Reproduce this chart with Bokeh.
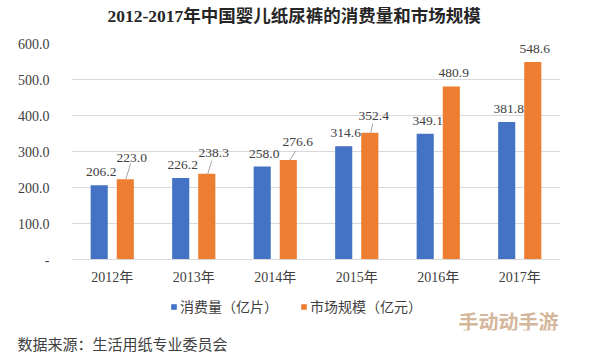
from bokeh.plotting import figure
from bokeh.layouts import column
from bokeh.models import (ColumnDataSource, FactorRange, Range1d, Legend, LegendItem,
                          CustomJSTickFormatter, FixedTicker, Label, Title)
from bokeh.transform import dodge
from bokeh.core.properties import value
from bokeh.embed import file_html
from bokeh.resources import INLINE

# ---- data ----
years = ["2012年", "2013年", "2014年", "2015年", "2016年", "2017年"]
consumption = [206.2, 226.2, 258.0, 314.6, 349.1, 381.8]      # 消费量（亿片）
market_size = [223.0, 238.3, 276.6, 352.4, 480.9, 548.6]      # 市场规模（亿元）
y_ticks = [0, 100, 200, 300, 400, 500, 600]

title_text = "2012-2017年中国婴儿纸尿裤的消费量和市场规模"
series_names = ["消费量（亿片）", "市场规模（亿元）"]
source_text = "数据来源：生活用纸专业委员会"
watermark_text = "手动动手游"

# ---- styles ----
BLUE = "#4472C4"
ORANGE = "#ED7D31"
TXT = "#404040"
GRID = "#d9d9d9"
SERIF = "Liberation Serif, Noto Sans CJK SC"
CJK = "Noto Sans CJK SC"

W = 594
TOP_H, MAIN_H, BOT_H = 30, 260, 63
L, R, MT, MB = 71, 34, 13, 31
BOT_MB = 20
FRAME_W = W - L - R
FRAME_H = MAIN_H - MT - MB
PX_PER_CAT = FRAME_W / len(years)
PX_PER_UNIT = FRAME_H / 600.0

# label pixel offsets (style)
blue_dx = [2, 2, 2, 2, 2.5, 2]
blue_dy = [-13, -13, -13, -13, -13, -13]
orange_dx = [6.5, 7, 9.5, 4, 2.5, 2]
orange_dy = [-21.5, -21, -17.5, -17, -13, -13]
# leader lines (px, from bar top centre) - only for first four
lead_dx0 = [0.5, 1, 1.5, 1]
lead_dx1 = [5.5, 5, 7.5, 3]
lead_dy1 = [-16, -13, -9, -9]


def blank_panel(h, mb=0):
    # frames of stacked plots are aligned, so x data units == canvas pixels here
    f = figure(width=W, height=h, x_range=Range1d(L, W - R), y_range=Range1d(h - mb, 0),
               output_backend="svg", toolbar_location=None,
               x_axis_location=None, y_axis_location=None, min_border=0,
               min_border_left=0, min_border_right=0, min_border_top=0, min_border_bottom=mb)
    f.grid.visible = False
    f.outline_line_color = None
    f.background_fill_color = "white"
    f.border_fill_color = "white"
    return f

# ---- title panel ----
top = blank_panel(TOP_H)
top.add_layout(Label(x=107, y=15, text=title_text, text_font=SERIF, text_font_size="17.5px",
                     text_font_style="bold", text_color="#262626", text_baseline="middle"))

# ---- main chart ----
src = ColumnDataSource(dict(
    year=years, cons=consumption, mkt=market_size,
    cons_lbl=[f"{v:.1f}" for v in consumption],
    mkt_lbl=[f"{v:.1f}" for v in market_size],
    bdx=blue_dx, bdy=blue_dy, odx=orange_dx, ody=orange_dy,
))

p = figure(width=W, height=MAIN_H, x_range=FactorRange(factors=years, range_padding=0),
           y_range=Range1d(0, 600), output_backend="svg", toolbar_location=None,
           min_border_left=L, min_border_right=R, min_border_top=MT, min_border_bottom=MB)
p.background_fill_color = "white"
p.border_fill_color = "white"
p.outline_line_color = None

OFF = 0.16
BW = 0.21
p.vbar(x=dodge("year", -OFF, range=p.x_range), top="cons", width=BW, source=src,
       fill_color=BLUE, line_color=None)
p.vbar(x=dodge("year", OFF, range=p.x_range), top="mkt", width=BW, source=src,
       fill_color=ORANGE, line_color=None)

# leader lines from orange bar tops toward their labels
for j in range(len(lead_dx0)):
    s = ColumnDataSource(dict(yr=[years[j]], y0=[market_size[j]],
                              y1=[market_size[j] - lead_dy1[j] / PX_PER_UNIT]))
    p.segment(x0=dodge("yr", OFF + lead_dx0[j] / PX_PER_CAT, range=p.x_range), y0="y0",
              x1=dodge("yr", OFF + lead_dx1[j] / PX_PER_CAT, range=p.x_range), y1="y1",
              source=s, line_color="#a6a6a6", line_width=1)

p.text(x=dodge("year", -OFF, range=p.x_range), y="cons", text="cons_lbl", source=src,
       x_offset="bdx", y_offset="bdy", text_align="center", text_baseline="middle",
       text_font=value(SERIF), text_font_size="13.5px", text_color=TXT)
p.text(x=dodge("year", OFF, range=p.x_range), y="mkt", text="mkt_lbl", source=src,
       x_offset="odx", y_offset="ody", text_align="center", text_baseline="middle",
       text_font=value(SERIF), text_font_size="13.5px", text_color=TXT)

p.yaxis.ticker = FixedTicker(ticks=y_ticks)
p.yaxis.formatter = CustomJSTickFormatter(code="return tick == 0 ? '-' : tick.toFixed(1);")
p.yaxis.axis_line_color = None
p.yaxis.major_tick_line_color = None
p.yaxis.minor_tick_line_color = None
p.yaxis.major_label_standoff = 16
p.yaxis.major_label_text_font = SERIF
p.yaxis.major_label_text_font_size = "14px"
p.yaxis.major_label_text_color = TXT

p.xaxis.axis_line_color = GRID
p.xaxis.major_tick_line_color = None
p.xaxis.minor_tick_line_color = None
p.xaxis.major_label_standoff = 4
p.xaxis.major_label_text_font = SERIF
p.xaxis.major_label_text_font_size = "14px"
p.xaxis.major_label_text_color = TXT

p.xgrid.grid_line_color = None
p.ygrid.grid_line_color = GRID
p.ygrid.grid_line_width = 1

# ---- bottom panel: legend, watermark, source ----
bot = blank_panel(BOT_H, BOT_MB)
dummy = ColumnDataSource(dict(x=[-10000], top=[0]))
lb = bot.vbar(x="x", top="top", width=1, source=dummy, fill_color=BLUE, line_color=None)
lo = bot.vbar(x="x", top="top", width=1, source=dummy, fill_color=ORANGE, line_color=None)
legend = Legend(items=[LegendItem(label=series_names[0], renderers=[lb]),
                       LegendItem(label=series_names[1], renderers=[lo])],
                orientation="horizontal", location=(99, 14),
                glyph_width=7, glyph_height=7, label_standoff=3, spacing=22,
                padding=0, margin=0, border_line_color=None, background_fill_alpha=0,
                label_text_font=CJK, label_text_font_size="14px", label_text_color=TXT,
                label_height=14)
bot.add_layout(legend, "center")
bot.add_layout(Label(x=558, y=33, text=watermark_text, text_font=CJK, text_font_size="20px",
                     text_font_style="bold", text_color="#c9a27e", text_alpha=0.8,
                     text_align="right", text_baseline="middle"))
bot.add_layout(Title(text=source_text, align="left", offset=-54, text_font=CJK,
                     text_font_size="15px", text_font_style="normal", text_color=TXT,
                     standoff=0), "below")

layout = column(top, p, bot, spacing=0)
open("out.html", "w").write(file_html(layout, INLINE))
